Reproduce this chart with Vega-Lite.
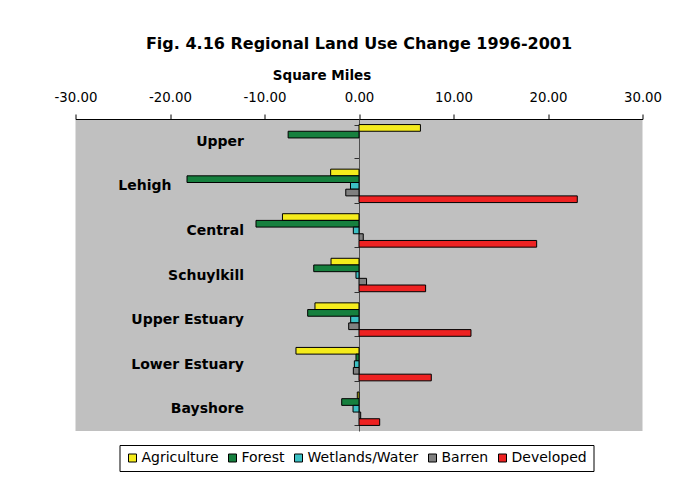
{
  "$schema": "https://vega.github.io/schema/vega-lite/v6.json",
  "width": 567,
  "height": 312,
  "padding": {"left": 53.5, "top": 36, "right": 10, "bottom": 5},
  "background": "white",
  "title": {
    "text": "Fig. 4.16 Regional Land Use Change 1996-2001",
    "font": "DejaVu Sans",
    "fontSize": 16,
    "fontWeight": "bold",
    "color": "black",
    "offset": 16,
    "anchor": "middle"
  },
  "data": {
    "values": [
      {"region": "Upper", "type": "Agriculture", "change": 6.5},
      {"region": "Upper", "type": "Forest", "change": -7.5},
      {"region": "Upper", "type": "Wetlands/Water", "change": 0},
      {"region": "Upper", "type": "Barren", "change": 0},
      {"region": "Upper", "type": "Developed", "change": 0},
      {"region": "Lehigh", "type": "Agriculture", "change": -3.0},
      {"region": "Lehigh", "type": "Forest", "change": -18.2},
      {"region": "Lehigh", "type": "Wetlands/Water", "change": -0.9},
      {"region": "Lehigh", "type": "Barren", "change": -1.4},
      {"region": "Lehigh", "type": "Developed", "change": 23.1},
      {"region": "Central", "type": "Agriculture", "change": -8.1},
      {"region": "Central", "type": "Forest", "change": -10.9},
      {"region": "Central", "type": "Wetlands/Water", "change": -0.6},
      {"region": "Central", "type": "Barren", "change": 0.45},
      {"region": "Central", "type": "Developed", "change": 18.8},
      {"region": "Schuylkill", "type": "Agriculture", "change": -2.96},
      {"region": "Schuylkill", "type": "Forest", "change": -4.79},
      {"region": "Schuylkill", "type": "Wetlands/Water", "change": -0.32},
      {"region": "Schuylkill", "type": "Barren", "change": 0.8},
      {"region": "Schuylkill", "type": "Developed", "change": 7.05},
      {"region": "Upper Estuary", "type": "Agriculture", "change": -4.66},
      {"region": "Upper Estuary", "type": "Forest", "change": -5.43},
      {"region": "Upper Estuary", "type": "Wetlands/Water", "change": -0.88},
      {"region": "Upper Estuary", "type": "Barren", "change": -1.09},
      {"region": "Upper Estuary", "type": "Developed", "change": 11.85},
      {"region": "Lower Estuary", "type": "Agriculture", "change": -6.67},
      {"region": "Lower Estuary", "type": "Forest", "change": -0.32},
      {"region": "Lower Estuary", "type": "Wetlands/Water", "change": -0.49},
      {"region": "Lower Estuary", "type": "Barren", "change": -0.6},
      {"region": "Lower Estuary", "type": "Developed", "change": 7.65},
      {"region": "Bayshore", "type": "Agriculture", "change": -0.18},
      {"region": "Bayshore", "type": "Forest", "change": -1.83},
      {"region": "Bayshore", "type": "Wetlands/Water", "change": -0.63},
      {"region": "Bayshore", "type": "Barren", "change": 0.18},
      {"region": "Bayshore", "type": "Developed", "change": 2.19}
    ]
  },
  "mark": {"type": "bar", "stroke": "black", "strokeWidth": 1},
  "encoding": {
    "y": {
      "field": "region",
      "type": "nominal",
      "sort": ["Upper", "Lehigh", "Central", "Schuylkill", "Upper Estuary", "Lower Estuary", "Bayshore"],
      "scale": {"paddingInner": 0.25, "paddingOuter": 0.125},
      "axis": {
        "orient": "left",
        "offset": -283.5,
        "title": null,
        "tickBand": "extent",
        "tickSize": 5,
        "tickColor": "#303030",
        "domainColor": "#505050",
        "labelPadding": {"condition": {"test": "datum.value === 'Lehigh'", "value": 183}, "value": 110.5},
        "labelFont": "DejaVu Sans",
        "labelFontSize": 14,
        "labelFontWeight": "bold",
        "labelColor": "black"
      }
    },
    "yOffset": {
      "field": "type",
      "type": "nominal",
      "sort": ["Agriculture", "Forest", "Wetlands/Water", "Barren", "Developed"],
      "scale": {"paddingInner": 0, "paddingOuter": 0}
    },
    "x": {
      "field": "change",
      "type": "quantitative",
      "scale": {"domain": [-30, 30], "nice": false},
      "axis": {
        "orient": "top",
        "title": "Square Miles",
        "titleX": 246,
        "titleFont": "DejaVu Sans",
        "titleFontSize": 13.5,
        "titleFontWeight": "bold",
        "titleColor": "black",
        "titlePadding": 8,
        "values": [-30, -20, -10, 0, 10, 20, 30],
        "labelExpr": "replace(format(datum.value, '.2f'), '\u2212', '-')",
        "labelFlush": false,
        "labelOverlap": false,
        "grid": false,
        "tickSize": 5,
        "tickColor": "black",
        "domainColor": "black",
        "labelPadding": 10,
        "labelFont": "DejaVu Sans",
        "labelFontSize": 13.3,
        "labelColor": "black"
      }
    },
    "strokeOpacity": {
      "condition": {"test": "datum.change === 0", "value": 0},
      "value": 1
    },
    "fill": {
      "field": "type",
      "type": "nominal",
      "sort": ["Agriculture", "Forest", "Wetlands/Water", "Barren", "Developed"],
      "scale": {
        "domain": ["Agriculture", "Forest", "Wetlands/Water", "Barren", "Developed"],
        "range": ["#F5EC1C", "#16803E", "#3CC0C4", "#808080", "#EE2222"]
      },
      "legend": {
        "orient": "none",
        "legendX": 44,
        "legendY": 326,
        "direction": "horizontal",
        "title": null,
        "symbolType": "square",
        "symbolSize": 64,
        "symbolStrokeColor": "black",
        "symbolStrokeWidth": 1,
        "symbolOpacity": 1,
        "labelFont": "DejaVu Sans",
        "labelFontSize": 14,
        "labelColor": "black",
        "labelOffset": 2,
        "columnPadding": 7,
        "padding": 6,
        "strokeColor": "black",
        "fillColor": "white"
      }
    }
  },
  "config": {
    "view": {"fill": "#C0C0C0", "stroke": null}
  }
}
